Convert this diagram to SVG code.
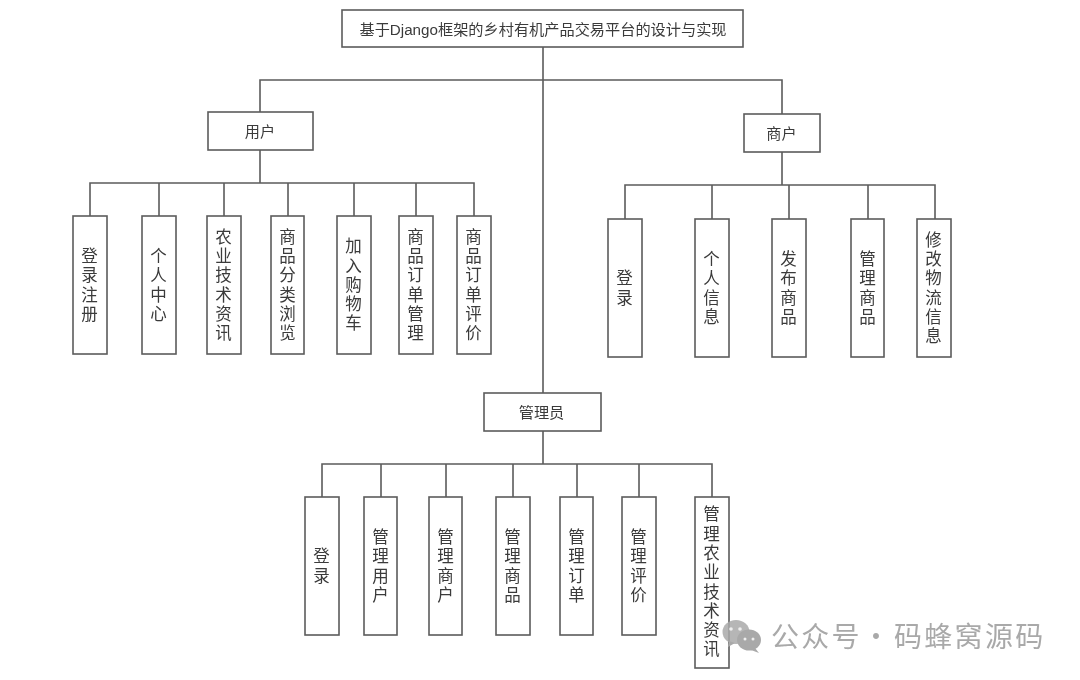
<svg xmlns="http://www.w3.org/2000/svg" width="1080" height="680" viewBox="0 0 1080 680">
<style>
text{font-family:"Liberation Sans","Noto Sans CJK SC",sans-serif;fill:#3a3a3a}
rect{fill:#fff;stroke:#5c5c5c;stroke-width:1.6}
.h{font-size:15.2px;text-anchor:middle}
.v{font-size:16.5px;writing-mode:vertical-rl;text-anchor:middle;letter-spacing:2.8px}
#connectors path{fill:none;stroke:#5c5c5c;stroke-width:1.6}
.w{font-family:"Noto Sans CJK SC",sans-serif;font-size:28px;fill:#a9a9a9;letter-spacing:2.3px}
</style>
<defs><filter id="soft" x="-2%" y="-2%" width="104%" height="104%"><feGaussianBlur stdDeviation="0.4"/></filter></defs>
<rect x="0" y="0" width="1080" height="680" style="fill:#fff;stroke:none"/>
<g filter="url(#soft)">
<g id="connectors">
<path d="M543 47V393M543 431V464M260 112V80H782V114"/>
<path d="M260 150V183M90 216V183H474V216M159 183V216M224 183V216M288 183V216M354 183V216M416 183V216"/>
<path d="M782 152V185M625 219V185H935V219M712 185V219M789 185V219M868 185V219"/>
<path d="M322 497V464H712V497M381 464V497M446 464V497M513 464V497M577 464V497M639 464V497"/>
</g>
<g id="root"><rect x="342" y="10" width="401" height="37"/><text class="h" x="543" y="34.500">基于Django框架的乡村有机产品交易平台的设计与实现</text></g>
<g id="user"><rect x="208" y="112" width="105" height="38"/><text class="h" x="260" y="137">用户</text></g>
<g id="merchant"><rect x="744" y="114" width="76" height="38"/><text class="h" x="781.500" y="139">商户</text></g>
<g id="admin"><rect x="484" y="393" width="117" height="38"/><text class="h" x="541.500" y="418">管理员</text></g>

<g id="u1"><rect x="73" y="216" width="34" height="138"/><text class="v" x="88.500" y="286">登录注册</text></g>
<g id="u2"><rect x="142" y="216" width="34" height="138"/><text class="v" x="157.500" y="286">个人中心</text></g>
<g id="u3"><rect x="207" y="216" width="34" height="138"/><text class="v" x="222.500" y="286">农业技术资讯</text></g>
<g id="u4"><rect x="271" y="216" width="33" height="138"/><text class="v" x="286.500" y="286">商品分类浏览</text></g>
<g id="u5"><rect x="337" y="216" width="34" height="138"/><text class="v" x="352.500" y="286">加入购物车</text></g>
<g id="u6"><rect x="399" y="216" width="34" height="138"/><text class="v" x="414.500" y="286">商品订单管理</text></g>
<g id="u7"><rect x="457" y="216" width="34" height="138"/><text class="v" x="472.500" y="286">商品订单评价</text></g>

<g id="m1"><rect x="608" y="219" width="34" height="138"/><text class="v" x="623.500" y="289">登录</text></g>
<g id="m2"><rect x="695" y="219" width="34" height="138"/><text class="v" x="710.500" y="289">个人信息</text></g>
<g id="m3"><rect x="772" y="219" width="34" height="138"/><text class="v" x="787.500" y="289">发布商品</text></g>
<g id="m4"><rect x="851" y="219" width="33" height="138"/><text class="v" x="866.500" y="289">管理商品</text></g>
<g id="m5"><rect x="917" y="219" width="34" height="138"/><text class="v" x="932.500" y="289">修改物流信息</text></g>

<g id="a1"><rect x="305" y="497" width="34" height="138"/><text class="v" x="320.500" y="567">登录</text></g>
<g id="a2"><rect x="364" y="497" width="33" height="138"/><text class="v" x="379.500" y="567">管理用户</text></g>
<g id="a3"><rect x="429" y="497" width="33" height="138"/><text class="v" x="444.500" y="567">管理商户</text></g>
<g id="a4"><rect x="496" y="497" width="34" height="138"/><text class="v" x="511.500" y="567">管理商品</text></g>
<g id="a5"><rect x="560" y="497" width="33" height="138"/><text class="v" x="575.500" y="567">管理订单</text></g>
<g id="a6"><rect x="622" y="497" width="34" height="138"/><text class="v" x="637.500" y="567">管理评价</text></g>
<g id="a7"><rect x="695" y="497" width="34" height="171"/><text class="v" x="710.500" y="583">管理农业技术资讯</text></g>
</g>
<g id="watermark" filter="url(#soft)">
<ellipse cx="736" cy="632" rx="13.500" ry="12" fill="#a9a9a9" fill-opacity=".85"/>
<path d="M729 641l-1 6 7-4z" fill="#a9a9a9"/>
<ellipse cx="749" cy="640" rx="12" ry="10.500" fill="#a9a9a9"/>
<path d="M755 648l4 5-8-3z" fill="#a9a9a9"/>
<circle cx="731" cy="629" r="1.800" fill="#eee"/><circle cx="740" cy="629" r="1.800" fill="#eee"/>
<circle cx="745" cy="639" r="1.500" fill="#eee"/><circle cx="753" cy="639" r="1.500" fill="#eee"/>
<text class="w" y="647"><tspan x="771">公众号</tspan><tspan x="862">·</tspan><tspan x="894">码蜂窝源码</tspan></text>
</g>
</svg>
